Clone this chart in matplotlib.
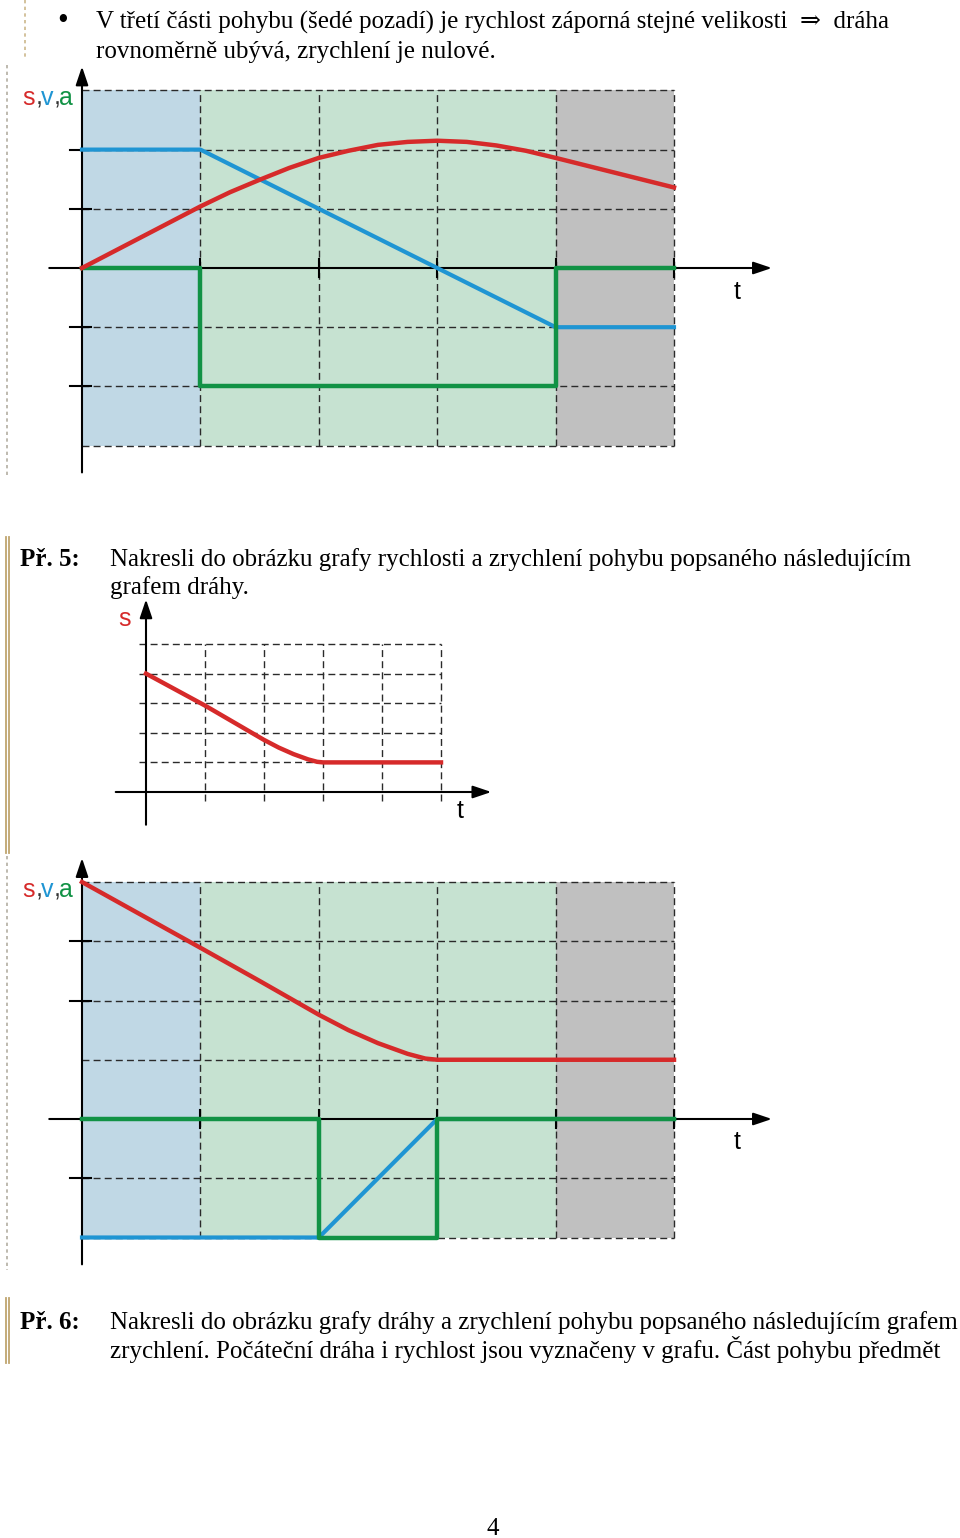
import matplotlib
matplotlib.use("Agg")
import matplotlib.pyplot as plt

# rozmery stranky v pixelech
W, H = 960, 1538

# barvy
RED = '#d62a2a'
BLUE = '#1f95d3'
GREEN = '#119245'
GRID = '#2a2a2a'
GOLD = '#bfa56e'
col_colors = ['#c0d8e5', '#c6e2d1', '#c6e2d1', '#c6e2d1', '#c0c0c0']
columns = [0, 1, 2, 3, 4]

# graf 1 (reseni predchoziho prikladu)
t1_v = [0, 1, 4, 5]
v1 = [2, 2, -1, -1]
t1_a = [0, 1, 1, 4, 4, 5]
a1 = [0, 0, -2, -2, 0, 0]
t1_s = [0, 1, 1.25, 1.5, 1.75, 2, 2.25, 2.5, 2.75, 3, 3.25, 3.5, 3.75, 4, 5]
s1 = [0, 1.04, 1.28, 1.49, 1.69, 1.86, 1.98, 2.08, 2.13, 2.15, 2.13, 2.07, 1.98, 1.86, 1.36]

# graf 2 (zadani Pr. 5, graf drahy)
t2_s = [0, 1, 1.5, 2, 2.25, 2.5, 2.75, 2.9, 3, 5]
s2 = [4, 2.92, 2.34, 1.76, 1.5, 1.28, 1.1, 1.02, 1.0, 1.0]

# graf 3 (reseni Pr. 5)
t3_s = [0, 1, 1.5, 2, 2.25, 2.5, 2.75, 2.9, 3, 5]
s3 = [4, 2.89, 2.33, 1.76, 1.5, 1.28, 1.1, 1.02, 1.0, 1.0]
t3_v = [0, 2, 3, 5]
v3 = [-2, -2, 0, 0]
t3_a = [0, 2, 2, 3, 3, 5]
a3 = [0, 0, -2, -2, 0, 0]

fig = plt.figure(figsize=(W / 100, H / 100), dpi=100)

SERIF = ['Liberation Serif', 'DejaVu Serif']
SANS = ['Liberation Sans', 'DejaVu Sans']


def ftext(x, y, s, **kw):
    fig.text(x / W, 1 - y / H, s, va='baseline', **kw)


def chart_axes(box, origin, unit):
    left, top, right, bottom = box
    ax = fig.add_axes([left / W, 1 - bottom / H, (right - left) / W, (bottom - top) / H])
    x0, y0 = origin
    ux, uy = unit
    ax.set_xlim((left - x0) / ux, (right - x0) / ux)
    ax.set_ylim((y0 - bottom) / uy, (y0 - top) / uy)
    ax.axis('off')
    return ax


# okrajove linky stranky
page = fig.add_axes([0, 0, 1, 1])
page.set_xlim(0, W)
page.set_ylim(H, 0)
page.axis('off')
page.plot([25, 25], [0, 60], color=GOLD, lw=1.2, ls=(0, (2, 2)), alpha=0.8)
page.plot([7, 7], [65, 478], color='#a09a8a', lw=1.2, ls=(0, (2, 2)), alpha=0.8)
page.plot([7, 7], [856, 1270], color='#a09a8a', lw=1.2, ls=(0, (2, 2)), alpha=0.8)
for y_a, y_b in [(537, 853), (1298, 1363)]:
    page.plot([5.5, 5.5], [y_a, y_b], color=GOLD, lw=1.3)
    page.plot([8.5, 8.5], [y_a, y_b], color=GOLD, lw=1.3)


def big_chart(ax, ymin, ymax, yticks):
    ax.bar(columns, ymax - ymin, bottom=ymin, width=1, align='edge', color=col_colors, zorder=0)
    dash = dict(color=GRID, lw=1.0, ls=(0, (5, 3)), zorder=1)
    for x in [1, 2, 3, 4, 5]:
        ax.plot([x, x], [ymin, ymax], **dash)
    for y in range(ymin, ymax + 1):
        if y != 0:
            ax.plot([0, 5], [y, y], **dash)
    for x in [1, 2, 3, 4, 5]:
        ax.plot([x, x], [-0.16, 0.16], color='black', lw=1.5, zorder=2)
    for y in yticks:
        ax.plot([-0.1, 0.08], [y, y], color='black', lw=1.5, zorder=2)


arrow_kw = dict(arrowstyle='-|>,head_length=0.8,head_width=0.27', mutation_scale=14, lw=1.5, color='black')

# ---- graf 1 ----
ax1 = chart_axes((40, 60, 780, 485), (82, 268), (118.4, 59.2))
big_chart(ax1, -3, 3, [2, 1, -1, -2])
ax1.annotate('', xy=(5.85, 0), xytext=(-0.3, 0), arrowprops=arrow_kw, zorder=2)
ax1.annotate('', xy=(0, 3.45), xytext=(0, -3.5), arrowprops=arrow_kw, zorder=2)
ax1.plot(t1_v, v1, color=BLUE, lw=3, zorder=3)
ax1.plot(t1_a, a1, color=GREEN, lw=3.2, zorder=4)
ax1.plot(t1_s, s1, color=RED, lw=3.2, zorder=5)

# ---- graf 2 ----
ax2 = chart_axes((100, 595, 500, 835), (146, 792), (59, 29.6))
dash2 = dict(color=GRID, lw=1.0, ls=(0, (5, 3)), zorder=1)
for x in [1, 2, 3, 4, 5]:
    ax2.plot([x, x], [-0.3, 5], **dash2)
for y in [1, 2, 3, 4, 5]:
    ax2.plot([-0.12, 5], [y, y], **dash2)
ax2.annotate('', xy=(5.9, 0), xytext=(-0.56, 0), arrowprops=arrow_kw)
ax2.annotate('', xy=(0, 6.6), xytext=(0, -1.2), arrowprops=arrow_kw)
ax2.plot(t2_s, s2, color=RED, lw=3.2, zorder=5)

# ---- graf 3 ----
ax3 = chart_axes((40, 850, 780, 1275), (82, 1119), (118.4, 59.25))
big_chart(ax3, -2, 4, [3, 2, -1])
ax3.annotate('', xy=(5.85, 0), xytext=(-0.3, 0), arrowprops=arrow_kw, zorder=2)
ax3.annotate('', xy=(0, 4.45), xytext=(0, -2.5), arrowprops=arrow_kw, zorder=2)
ax3.plot(t3_v, v3, color=BLUE, lw=3, zorder=3)
ax3.plot(t3_a, a3, color=GREEN, lw=3.2, zorder=4)
ax3.plot(t3_s, s3, color=RED, lw=3.2, zorder=5)


# popisky os
def sva(x, y):
    parts = [('s', RED, 0), (',', '#333333', 14), ('v', BLUE, 19), (',', '#333333', 32), ('a', GREEN, 37)]
    for txt, c, dx in parts:
        ftext(x + dx, y, txt, color=c, fontsize=18, family=SANS)


sva(22, 105)
sva(22, 897)
ftext(737, 299, 't', fontsize=18, family=SANS, ha='center')
ftext(737, 1149, 't', fontsize=18, family=SANS, ha='center')
ftext(125, 626, 's', fontsize=18, family=SANS, ha='center', color=RED)
ftext(460, 818, 't', fontsize=18, family=SANS, ha='center')

# text stranky
FS = 18
ftext(63, 29, '•', fontsize=22, family=SERIF, ha='center')
ftext(96, 29, 'V třetí části pohybu (šedé pozadí) je rychlost záporná stejné velikosti  ⇒  dráha',
      fontsize=FS, family=SERIF)
ftext(96, 58, 'rovnoměrně ubývá, zrychlení je nulové.', fontsize=FS, family=SERIF)

ftext(20, 566, 'Př. 5:', fontsize=FS, family=SERIF, weight='bold')
ftext(110, 566, 'Nakresli do obrázku grafy rychlosti a zrychlení pohybu popsaného následujícím',
      fontsize=FS, family=SERIF)
ftext(110, 594, 'grafem dráhy.', fontsize=FS, family=SERIF)

ftext(20, 1329, 'Př. 6:', fontsize=FS, family=SERIF, weight='bold')
ftext(110, 1329, 'Nakresli do obrázku grafy dráhy a zrychlení pohybu popsaného následujícím grafem',
      fontsize=FS, family=SERIF)
ftext(110, 1358, 'zrychlení. Počáteční dráha i rychlost jsou vyznačeny v grafu. Část pohybu předmět',
      fontsize=FS, family=SERIF)
ftext(493, 1535, '4', fontsize=FS, family=SERIF, ha='center')

fig.savefig('out.png', dpi=100)
